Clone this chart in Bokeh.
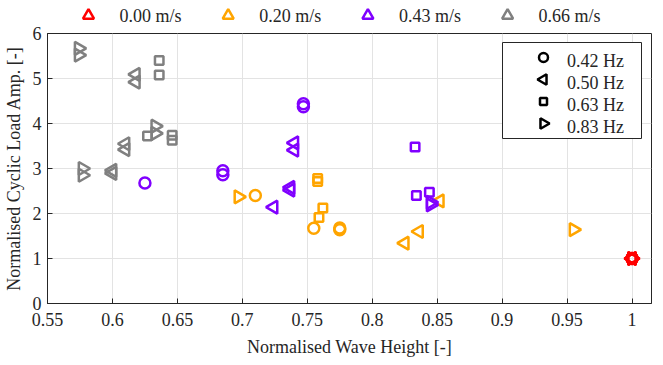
import numpy as np
from bokeh.plotting import figure
from bokeh.layouts import column
from bokeh.models import Legend, LegendItem, FixedTicker, Range1d
from bokeh.core.properties import value
from bokeh.embed import file_html
from bokeh.resources import INLINE

speeds = ["0.00 m/s", "0.20 m/s", "0.43 m/s", "0.66 m/s"]
freqs = ["0.42 Hz", "0.50 Hz", "0.63 Hz", "0.83 Hz"]

x_ticks = [0.55, 0.6, 0.65, 0.7, 0.75, 0.8, 0.85, 0.9, 0.95, 1.0]
x_tick_labels = ["0.55", "0.6", "0.65", "0.7", "0.75", "0.8", "0.85", "0.9", "0.95", "1"]
y_ticks = [0, 1, 2, 3, 4, 5, 6]

# 0.00 m/s
x_000 = [1.0, 1.0, 1.0, 1.0, 1.0, 1.0, 1.0, 1.0]
y_000 = [1.0, 1.0, 1.0, 1.0, 1.0, 1.0, 1.0, 1.0]
f_000 = ["0.42 Hz", "0.42 Hz", "0.50 Hz", "0.50 Hz", "0.63 Hz", "0.63 Hz", "0.83 Hz", "0.83 Hz"]

# 0.20 m/s
x_020 = [0.710, 0.755, 0.775, 0.775, 0.825, 0.836, 0.852, 0.758, 0.758, 0.762, 0.759, 0.697, 0.955]
y_020 = [2.40, 1.67, 1.68, 1.64, 1.34, 1.60, 2.28, 2.78, 2.71, 2.12, 1.91, 2.37, 1.64]
f_020 = ["0.42 Hz", "0.42 Hz", "0.42 Hz", "0.42 Hz", "0.50 Hz", "0.50 Hz", "0.50 Hz",
         "0.63 Hz", "0.63 Hz", "0.63 Hz", "0.63 Hz", "0.83 Hz", "0.83 Hz"]

# 0.43 m/s
x_043 = [0.625, 0.685, 0.685, 0.747, 0.747, 0.724, 0.737, 0.737, 0.740, 0.740,
         0.833, 0.834, 0.844, 0.845, 0.845]
y_043 = [2.68, 2.95, 2.86, 4.44, 4.37, 2.14, 2.58, 2.52, 3.57, 3.41,
         3.48, 2.40, 2.47, 2.25, 2.19]
f_043 = ["0.42 Hz", "0.42 Hz", "0.42 Hz", "0.42 Hz", "0.42 Hz",
         "0.50 Hz", "0.50 Hz", "0.50 Hz", "0.50 Hz", "0.50 Hz",
         "0.63 Hz", "0.63 Hz", "0.63 Hz", "0.83 Hz", "0.83 Hz"]

# 0.66 m/s
x_066 = [0.618, 0.618, 0.610, 0.610, 0.600, 0.600, 0.636, 0.636, 0.627, 0.646, 0.646,
         0.574, 0.574, 0.633, 0.633, 0.577, 0.577]
y_066 = [5.09, 4.92, 3.55, 3.42, 2.96, 2.89, 5.40, 5.08, 3.72, 3.74, 3.63,
         5.67, 5.52, 3.94, 3.78, 3.00, 2.85]
f_066 = ["0.50 Hz", "0.50 Hz", "0.50 Hz", "0.50 Hz", "0.50 Hz", "0.50 Hz",
         "0.63 Hz", "0.63 Hz", "0.63 Hz", "0.63 Hz", "0.63 Hz",
         "0.83 Hz", "0.83 Hz", "0.83 Hz", "0.83 Hz", "0.83 Hz", "0.83 Hz"]

series = [(x_000, y_000, f_000), (x_020, y_020, f_020), (x_043, y_043, f_043), (x_066, y_066, f_066)]
colors = ["#FF0000", "#FFA500", "#8000FF", "#808080"]
marker_spec = {
    "0.42 Hz": ("circle", 0.0, 11),
    "0.50 Hz": ("triangle", np.pi / 2, 13),
    "0.63 Hz": ("square", 0.0, 8.5),
    "0.83 Hz": ("triangle", -np.pi / 2, 13),
}
legend_marker_size = {"0.42 Hz": 9, "0.50 Hz": 10.5, "0.63 Hz": 7, "0.83 Hz": 10.5}

FONT = "Liberation Serif"
INK = "#262626"
FW, FH = 604, 270
TOP_H = 24
TOP_GAP = 9
BORDER_L, BORDER_R = 42, 1

# ---------------- top legend strip (current speeds) ----------------
# coordinates of this strip are pixels measured from the main plot frame's left edge
lf = figure(frame_width=FW, frame_height=TOP_H, x_range=Range1d(0, FW), y_range=Range1d(0, TOP_H),
            x_axis_location=None, y_axis_location=None,
            output_backend="svg", toolbar_location=None,
            min_border_left=BORDER_L, min_border_right=BORDER_R, min_border_top=0, min_border_bottom=0)
lf.grid.visible = False
lf.outline_line_color = None
lf.background_fill_color = "white"
lf.border_fill_color = "white"

ITEM0, ITEM_STEP, TXT_OFF = 41, 139.7, 31
tri_x = [ITEM0 + i * ITEM_STEP for i in range(len(speeds))]
txt_x = [t + TXT_OFF for t in tri_x]
mid_y = [TOP_H / 2 - 3] * len(speeds)
lf.scatter(tri_x, mid_y, marker="triangle", size=11, line_color=colors,
           fill_color=None, line_width=2.5)
lf.text(txt_x, mid_y, text=speeds, text_font=value(FONT), text_font_size="18px",
        text_color=INK, text_baseline="middle", text_align="left")

# ---------------- main plot ----------------
p = figure(frame_width=FW, frame_height=FH, x_range=Range1d(0.55, 1.015), y_range=Range1d(0, 6),
           output_backend="svg", toolbar_location=None,
           min_border_left=BORDER_L, min_border_right=BORDER_R, min_border_top=TOP_GAP,
           min_border_bottom=0)
p.outline_line_color = INK
p.outline_line_width = 1
p.background_fill_color = "white"
p.border_fill_color = "white"
p.extra_x_ranges["px"] = Range1d(0, FW)
p.extra_y_ranges["px"] = Range1d(0, FH)

for ax in (p.xaxis[0], p.yaxis[0]):
    ax.axis_line_color = INK
    ax.major_tick_line_color = INK
    ax.major_tick_in = 5
    ax.major_tick_out = 0
    ax.minor_tick_line_color = None
    ax.major_label_text_font = FONT
    ax.major_label_text_font_size = "18px"
    ax.major_label_text_color = INK
    ax.axis_label_text_font = FONT
    ax.axis_label_text_font_size = "18px"
    ax.axis_label_text_font_style = "normal"
    ax.axis_label_text_color = INK

p.xaxis.ticker = FixedTicker(ticks=x_ticks)
p.xaxis.major_label_overrides = {t: l for t, l in zip(x_ticks, x_tick_labels)}
p.yaxis.ticker = FixedTicker(ticks=y_ticks)
p.xaxis.axis_label = "Normalised Wave Height [-]"
p.yaxis.axis_label = "Normalised Cyclic Load Amp. [-]"
p.xaxis.major_label_standoff = 9
p.xaxis.axis_label_standoff = 8
p.yaxis.major_label_standoff = 6
p.yaxis.axis_label_standoff = 6

p.xgrid.ticker = FixedTicker(ticks=x_ticks)
p.ygrid.ticker = FixedTicker(ticks=y_ticks)
p.grid.grid_line_color = "#E3E3E3"
p.grid.grid_line_width = 1

for (xs, ys, fs), col in zip(series, colors):
    for fq in freqs:
        px = [x for x, f in zip(xs, fs) if f == fq]
        py = [y for y, f in zip(ys, fs) if f == fq]
        if not px:
            continue
        mk, ang, sz = marker_spec[fq]
        p.scatter(px, py, marker=mk, angle=ang, size=sz, line_color=col,
                  fill_color=None, line_width=2.5)

# ---- inner legend (frequencies): box + glyphs as glyphs, labels from Legend ----
LEG_PAD, ROW_H, GLYPH_W, LBL_W, STANDOFF = 4, 22, 62, 66, 3
leg_w = 2 * LEG_PAD + GLYPH_W + STANDOFF + LBL_W
leg_h = 2 * LEG_PAD + ROW_H * len(freqs)
leg_right = FW - 10
leg_topy = FH - 9
leg_x0 = leg_right - leg_w
leg_y0 = leg_topy - leg_h

p.quad(left=[leg_x0], right=[leg_right], bottom=[leg_y0], top=[leg_topy],
       fill_color="white", line_color=INK, line_width=1,
       x_range_name="px", y_range_name="px")

mk_x = leg_x0 + LEG_PAD + GLYPH_W - 25
for i, fq in enumerate(freqs):
    mk, ang, _ = marker_spec[fq]
    mk_y = leg_topy - LEG_PAD - ROW_H / 2 - i * ROW_H
    p.scatter([mk_x], [mk_y], marker=mk, angle=ang, size=legend_marker_size[fq],
              line_color="black", fill_color=None, line_width=2.5,
              x_range_name="px", y_range_name="px")

freq_items = []
for fq in freqs:
    r = p.scatter([np.nan], [np.nan], marker="circle", size=1, line_alpha=0, fill_alpha=0)
    freq_items.append(LegendItem(label=fq, renderers=[r]))

leg_freq = Legend(items=freq_items, location=(leg_x0, leg_y0),
                  border_line_color=None, background_fill_alpha=0,
                  label_text_font=FONT, label_text_font_size="18px", label_text_color=INK,
                  glyph_width=GLYPH_W, glyph_height=ROW_H, label_height=ROW_H, label_width=LBL_W,
                  label_standoff=STANDOFF, spacing=0, padding=LEG_PAD, margin=0)
p.add_layout(leg_freq, "center")

layout = column(lf, p, spacing=0)
open("out.html", "w").write(file_html(layout, INLINE))
